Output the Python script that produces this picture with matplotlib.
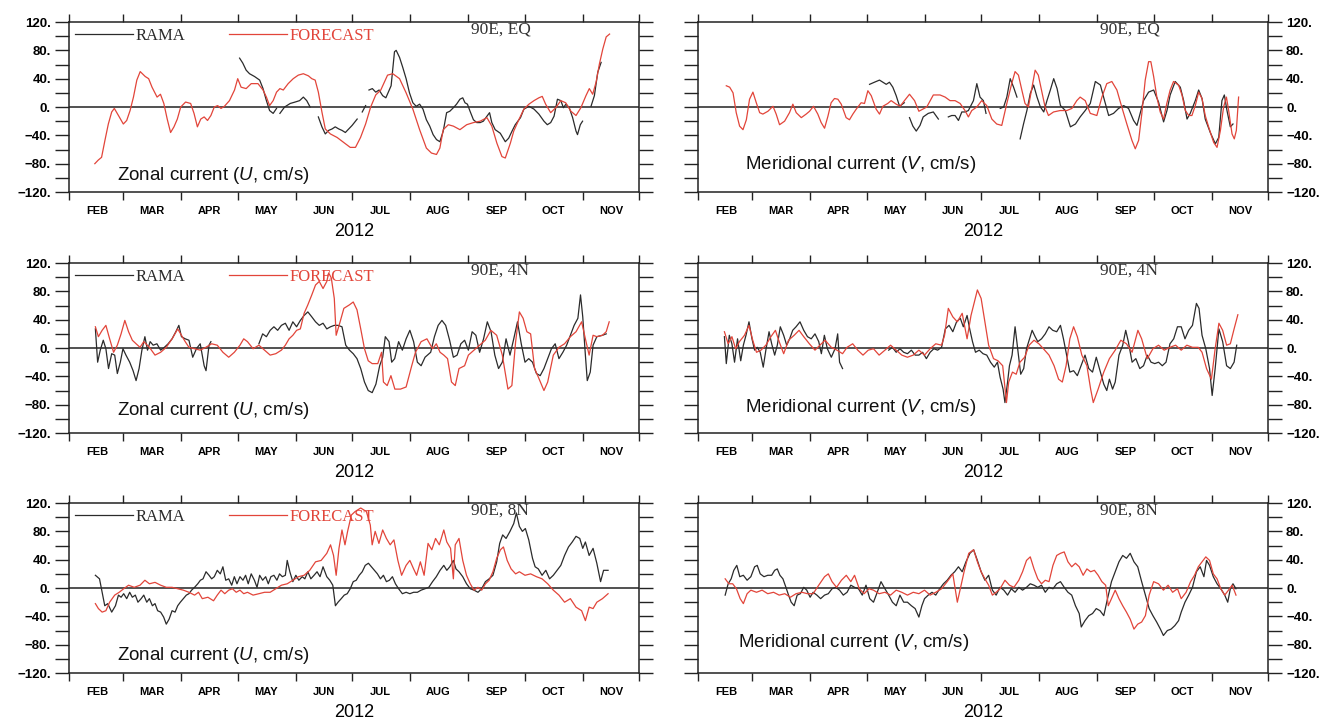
import numpy as np
import matplotlib
matplotlib.use("Agg")
import matplotlib.pyplot as plt
import matplotlib.dates as mdates
from matplotlib.ticker import MultipleLocator, FuncFormatter, NullFormatter

# days counted from 1 Feb 2012, None = no record
eq_u_rama_day = [91, 92.7, 94.5, 96.3, 99, 101.7, 103.5, 105.3, 107, 108.9, 110.7, None,
                 112.5, 115, 118, 120.6, 123, 125, 126.8, 128.6, None,
                 133, 134.9, 136.7, 138.5, 140.3, 142, 143.9, 145.6, 147.4, 149.2, 151, 153.7, None,
                 156.4, 158.2, None,
                 160, 161.8, 163.6, 165.4, 167.3, 169, 171.8, 173.6, 174.5, 176.3, 178, 179.8, 181.6,
                 183.4, 185.2, 187, 188.8, 190.6, 192.4, 194.2, 196, 197.8, 199.6, 201.4, 203.1, 205,
                 206.7, 208.5, 210, 211.2, 212.5, 213.9, 215.7, 217.5, 219.3, 221, 222.9, 224.3, 225.5,
                 227.3, 230, 232.7, 234.5, 236.3, 238, 240.8, 242.6, 245.3, 248, 250.6, 253.3, 255.1,
                 256.9, 258.7, 260.5, 262.3, 263.7, 265, 266.8, 268.6, 270.4, 271.2, 272.7, 273.9, None,
                 278.4, 280.2, 282, 283.8]
eq_u_rama = [69, 62, 52, 47, 43, 38, 26, 9, -5, -9, -2, None,
             -9, 0, 5, 7, 9, 14, 9, 0, None,
             -14, -28, -38, -33, -31, -28, -31, -33, -36, -31, -26, -17, None,
             -7, 2, None,
             24, 26, 21, 24, 16, 13, 30, 78, 80, 70, 56, 40, 20,
             6, 1, 4, -3, -18, -27, -39, -46, -49, -34, -8, -6, -1,
             4, 11, 13, 6, 4, -6, -18, -22, -22, -20, -13, -8, -22,
             -32, -37, -49, -44, -34, -25, -15, -3, 1, -3, -10, -20, -25,
             -22, -13, 11, 9, -1, 4, -1, -15, -34, -39, -25, -20, None,
             1, 16, 49, 63]
eq_u_fcst_day = [13.8, 15.6, 17.4, 19.2, 21, 22.8, 24.2, 26.4, 29, 30.8, 32.6, 34.4, 36.2, 38, 40.7,
                 42.5, 44.3, 47, 48.8, 50.6, 52.4, 54.2, 56, 57.8, 59.6, 62.2, 64.9, 66.7, 68.5, 70.3,
                 72.1, 73.9, 75.7, 77.5, 79.3, 81.1, 82.9, 85.6, 88.3, 90, 91.8, 94.5, 97.2, 100.8,
                 103.5, 105.3, 107, 108.9, 110.7, 112.5, 114.3, 116.9, 119.6, 122.3, 125, 127.7, 129.5,
                 131.3, 133, 134.9, 136.7, 139.4, 143, 146.5, 150, 152.8, 155.5, 158.2, 160.9, 163.6,
                 166.3, 169.9, 172.7, 176.3, 179.8, 183.4, 187, 190.6, 193.3, 196, 197.8, 199.6, 202.3,
                 205, 208.5, 212.1, 215.7, 219.3, 222.9, 225.5, 228.2, 230.9, 232.7, 235.4, 237.2,
                 239.9, 242.6, 245.3, 248, 250.6, 252.4, 254.2, 256.9, 259.6, 262.3, 264.9, 267.7,
                 270.4, 273, 275.7, 277.5, 279.3, 281.1, 282.9, 284.7, 286.5, 288.3]
eq_u_fcst = [-80, -75, -71, -47, -24, -7, -2, -12, -24, -19, -5, 14, 38, 50, 43,
             40, 28, 14, 18, 5, -17, -36, -28, -17, 0, 7, 5, -9, -28, -17,
             -14, -19, -12, 0, 2, -2, 1, 9, 24, 40, 28, 26, 33, 33,
             24, 14, 2, 9, 21, 26, 24, 33, 40, 45, 47, 44, 40,
             38, 21, -7, -31, -38, -43, -50, -57, -57, -43, -24, 0, 17,
             24, 45, 47, 40, 20, -3, -32, -58, -65, -67, -58, -32, -25,
             -27, -32, -25, -22, -20, -15, -27, -51, -70, -72, -51, -34,
             -18, -3, 4, 9, 13, 15, 4, -8, -1, 9, 6, -6,
             -12, -1, 16, 26, 18, 35, 61, 82, 99, 103]

eq_v_rama_day = [91.5, 94.1, 96.8, 98.6, 100.4, 102.1, 103.9, 105.7, 107.5, 110, None,
                 112.8, 114.6, 116.4, 118.4, 120.1, 122.8, 125.5, 128.2, None,
                 133.5, 135.3, 137.1, 138.9, 140.7, 142.4, 144.2, 146.9, 148.7, 150.4, 152.2, 153.6, None,
                 161.2, 163, 164.7, 166.5, 168.3, 170.1, None,
                 171.8, 173.6, 175.4, 177.2, 179, 180.8, 182.6, 184.4, 186.1, 187.9, 189.7, 191.5,
                 193.3, 195.9, 198.6, 201.3, 203.8, 206.5, 209.2, 211.9, 214.6, 216.3, 219, 221.6,
                 224.3, 227, 229.6, 232.3, 234.1, 235.8, 237.6, 240.3, 243, 245.6, 248.3, 250.1,
                 251.8, 254.5, 257.2, 259, 260.8, 262.5, 265.2, 267, 268.8, 270.5, 273.2, 275.9,
                 277.7, 279.4, 280.7, 282.1, 283.9, 285.3]
eq_v_rama = [32, 35, 38, 35, 32, 35, 28, 16, 1, 6, None,
             -15, -27, -34, -26, -14, -9, -7, -17, None,
             -14, -12, -12, -19, -7, -7, -5, 9, 33, 14, 9, -9, None,
             -2, 0, 14, 40, 28, 14, None,
             -45, -24, -5, 19, 31, 14, 0, -7, 9, 24, 40, 26,
             2, -5, -28, -24, -14, -5, 5, 36, 31, 14, -12, -9,
             -2, 2, -2, -19, -26, -9, 9, 21, 24, 7, -21, -5,
             17, 36, 28, 9, -17, -9, 9, 24, 12, -17, -36, -52,
             -43, 9, 17, -5, -28, -24]
eq_v_fcst_day = [15.1, 16.9, 18.7, 20.4, 22.2, 24, 25.8, 27.5, 29.3, 31.1, 32.9, 34.6, 37.3, 40,
                 41.7, 43.5, 46.2, 48.8, 50.6, 52.4, 55.1, 57.7, 59.5, 61.6, 63.9, 65.7, 67.5, 69.3,
                 71, 72.8, 74.6, 76.4, 79, 80.8, 82.6, 84.4, 87, 88.8, 90.6, 92.4, 95, 96.8, 98.6,
                 101.2, 103, 105.7, 107.8, 110.1, 112.8, 115.5, 117.8, 122, 125.5, 129.1, 131.8,
                 134.4, 137.1, 139.8, 142.4, 144.2, 146, 148.7, 151.3, 154, 156.7, 159.3, 162, 164.7,
                 167.3, 169.1, 170.9, 172.7, 174.4, 176.2, 178, 179.8, 181.5, 183.4, 185.1, 186.9,
                 189.6, 193.1, 196.7, 199.4, 202, 203.8, 206.5, 209.2, 212.7, 215.4, 218, 220.7,
                 223.4, 226, 228.7, 231.4, 233.2, 235, 236.7, 238.5, 240.3, 241.5, 243, 244.7, 246.5,
                 248.3, 250, 251.8, 253.6, 256.3, 258.1, 259.9, 261.7, 263.4, 265.2, 267, 268.8,
                 270.5, 272.3, 275, 276.8, 278.6, 280.3, 281.8, 283, 284.8, 286, 287.1, 288.3]
eq_v_fcst = [30, 28, 20, -8, -27, -32, -18, 11, 21, 6, -8, -10, -6, 1,
             -10, -25, -20, -8, 4, -8, -15, -10, -6, 1, -10, -22, -30, -13,
             6, 12, 11, 4, -15, -18, -10, -3, 6, 5, 23, 16, -3, -10, 1,
             5, 9, 4, 1, 9, 18, 9, -6, 0, 17, 17, 14,
             9, 9, 5, -5, -14, -5, 0, 9, 2, -17, -24, -26, 5,
             33, 50, 45, 24, 5, 0, 26, 52, 45, 21, 0, -12,
             -7, -5, -5, -2, 9, 14, 9, -9, -12, 14, 33, 36,
             24, 0, -24, -47, -59, -47, -9, 38, 64, 64, 43, 14, -7,
             -17, 5, 24, 36, 31, 17, -5, -12, -12, 2, 21, 12,
             -12, -28, -50, -57, -33, 0, 14, -5, -38, -45, -33, 14]

n4_u_rama_day = [14.1, 15.3, 16.7, 18.3, 19.7, 21.1, 22.8, 24.4, 25.8, 27.4, 28.8, 30.4, 32.4, 34.2,
                 35.8, 37.4, 38.9, 40.5, 41.9, 43.3, 44.9, 46.9, 48.9, 50.9, 52.9, 55, 57, 58.6, 60,
                 62, 64, 66, 68, 70, 72.1, 73.1, 74.7, 75.7, None,
                 101.3, 103.3, 105.3, 107.3, 109.3, 111.3, 113.3, 115.4, 117.4, 119.4, 121.4, 123.4,
                 125.4, 127.4, 129.5, 131.5, 133.5, 135.5, 137.5, 139.5, 141.5, 143.5, 145.6, 147.6,
                 149.6, 151.6, 153.6, 155.6, 157.6, 159.6, 161.7, 163.7, 165.7, 167.3, 168.7, 170.7,
                 172.1, 173.7, 175.8, 177.8, 179.8, 181.8, 183.8, 185.8, 187.8, 189.9, 192.9, 194.9,
                 196.9, 198.9, 200.9, 203, 205, 207, 209, 211, 213, 215, 217, 219, 221.1, 223.1, 225.1,
                 227.1, 229.1, 231.1, 233.1, 235.2, 237.2, 239.2, 241.2, 243.2, 245.2, 247.2, 249.3,
                 251.3, 253.3, 255.3, 257.3, 259.3, 261.3, 263.4, 265.4, 267.4, 269.4, 271.4, 272.8,
                 274, 275.4, 276.4, 278, 279.5, 281.5, 284.5, 286.5]
n4_u_rama = [27, -20, -3, 11, -1, -29, -8, -10, -36, -20, -1, -10, -20, -32,
             -46, -29, -3, 16, -3, 9, 4, 6, -3, 1, 6, 13, 23, 32, 16,
             13, 11, -13, -1, 6, -25, -32, 4, 9, None,
             6, 20, 16, 25, 30, 25, 32, 35, 25, 37, 30, 39,
             46, 51, 44, 37, 32, 35, 27, 30, 32, 32, 30, 4,
             -3, -8, -15, -29, -48, -60, -63, -51, -25, -13, 16, 9,
             -20, -15, 9, -3, 13, 25, 9, -20, -25, -13, -6, 16,
             32, 39, 32, 11, -13, -10, 6, 11, -3, 23, 18, -6, 13, 37, 23,
             -10, -29, -20, 13, -10, 13, 37, 6, -20, -15, -20, -36,
             -39, -29, -15, -1, 6, -15, -6, 4, 18, 32, 42, 75,
             44, -10, -46, -34, 4, 16, 18, 20]
n4_u_fcst_day = [14.1, 15.7, 17.7, 19.7, 21.7, 23.8, 25.8, 27.8, 29.8, 31.8, 33.8, 35.8, 37.9, 39.9,
                 42.9, 45.9, 48.9, 51.9, 55, 58, 60, 62, 64, 67, 70, 73, 76.1, 79.1, 82.1, 85.2, 88.2,
                 91.2, 93.2, 95.2, 98.2, 101.3, 104.3, 107.3, 110.3, 113.3, 115.4, 117.4, 119.4,
                 121.4, 123.4, 125.4, 127.4, 129.5, 131.5, 133.5, 135.5, 137.5, 138.5, 139.9, 141.5,
                 142.5, 144.6, 146.6, 149.6, 151.6, 153.6, 155.6, 157.6, 159.6, 161.7, 164.7, 166.7,
                 167.7, 169.7, 171.7, 173.8, 176.8, 179.8, 182.8, 184.8, 187.8, 190.9, 193.9, 195.9,
                 197.9, 199.9, 201.9, 204, 206, 208, 211, 213, 216, 219, 222, 225, 228.1, 231.1,
                 234.1, 236.2, 238.2, 240.2, 242.2, 244.2, 246.2, 248.3, 250.3, 253.3, 255.3, 258.3,
                 261.3, 264.3, 267.4, 270.4, 273.4, 275.4, 277.4, 279.5, 281.5, 284.5, 286.5, 288.1]
n4_u_fcst = [30, 16, 25, 32, 13, -6, 4, 20, 39, 23, 11, 6, 1, 9,
             1, -10, -6, 1, 13, 27, 18, 9, 1, -1, -3, 1, 6, 4, -6, -13, -6,
             4, 13, 9, -1, 4, -3, -10, -8, -3, 4, 13, 18,
             25, 27, 49, 61, 75, 89, 94, 84, 94, 106, 99, 70,
             18, 37, 56, 61, 65, 54, 27, -1, -18, -22, -22, -6,
             -48, -53, -39, -58, -58, -55, -25, -6, 9, 13, -1, 6,
             -6, -10, -15, -48, -53, -29, -25, -10, -3, 4, 11, 25, 18, -10,
             -58, -53, 9, 51, 42, 23, 20, -29, -41, -60, -48, -10,
             1, 6, 16, 23, 37, 13, -10, 18, 16, 18, 23, 37]

n4_v_rama_day = [14.1, 15.1, 16.7, 18.1, 19.5, 21.1, 22.8, 24.2, 25.6, 27.2, 28.8, 30.2, 31.6, 33.2,
                 34.8, 36.2, 37.9, 39.3, 40.9, 42.3, 43.9, 45.7, 47.3, 48.9, 50.5, 52.3, 54.4, 56.4,
                 58.4, 60.4, 62.4, 64.4, 65.8, 67.4, 69, 71.1, 73.1, 74.5, 75.5, 77.1, None,
                 101.7, 103.7, 105.7, 107.7, 109.7, 111.7, 113.8, 115.8, 117.8, 119.8, 121.8, 123.8,
                 125.8, 127.8, 129.9, 131.9, 133.9, 135.9, 137.9, 139.9, 141.5, 143.5, 144.9, 146.4,
                 148, 150, 152, 154, 156, 158, 159.7, 161.1, 162.7, 163.7, 165.1, 166.1, 167.5, 169.1,
                 170.5, 172.1, 173.7, 175.2, 176.8, 178.2, 179.8, 181.2, 183.2, 185.2, 187.2, 189.2,
                 191.3, 193.3, 194.9, 196.3, 198.3, 200.3, 202.3, 204.3, 206.4, 208.4, 210.4, 212.4,
                 214.4, 216.4, 218, 219.4, 221.1, 222.5, 224.5, 226.5, 228.1, 229.5, 231.5, 233.5,
                 235.6, 237.6, 239.6, 241.6, 243.6, 245.6, 247.6, 249.6, 251.7, 253.7, 255.7, 257.7,
                 259.7, 261.7, 263.7, 265.8, 267.2, 268.8, 270.8, 272.8, 274.2, 275.8, 277.8, 279.8,
                 281.9, 283.9, 285.9, 287.3]
n4_v_rama = [16, -22, 18, 6, -20, 13, -18, 4, 18, 37, 13, -3, 1, -6,
             -27, -3, 23, 6, -10, 4, 30, 18, 4, 13, 25, 30, 37, 25,
             16, 13, 20, 9, -8, 18, -1, -13, -1, 20, -20, -29, None,
             -3, 1, -6, -1, -6, -8, -3, -10, -10, -6, -15, -6,
             -1, -3, 1, 27, 32, 23, 37, 42, 30, 46, 27, 9,
             -6, -3, -8, -10, -20, -27, -20, -41, -58, -77, -48, -25, -10, 30,
             -1, -37, -29, -1, 13, 25, 16, 9, 13, 20, 30, 25,
             23, 32, 13, -6, -34, -32, -39, -25, -10, -29, -34, -13,
             -32, -51, -60, -44, -58, -48, -10, 4, 25, 9, -20, -15,
             -29, -25, -10, -20, -22, -20, -25, -20, 6, 13, 30, 30,
             13, 25, 32, 63, 56, 18, -1, -29, -67, -29, 27, 9,
             -25, -29, -20, 4]
n4_v_fcst_day = [14.1, 16.1, 18.1, 20.1, 22.1, 24.8, 27.2, 29.2, 31.2, 33.6, 36.2, 38.9, 41.3, 43.3,
                 45.7, 48.3, 51.3, 53.9, 56.4, 59.4, 62.4, 65, 67.8, 71.1, 74.1, 77.1, 79.5, 82.5,
                 85.2, 88, 90.8, 93.6, 96.6, 99.7, 102.7, 105.7, 108.7, 111.7, 114.8, 117.8, 120.8,
                 123.8, 126.8, 129.9, 131.5, 133.5, 135.9, 138.3, 140.9, 143.5, 145.6, 147.4, 149,
                 151, 153, 155, 157.6, 160, 162.5, 164.5, 165.7, 167.7, 169.7, 171.7, 174.2, 176.6,
                 179.2, 181.8, 184.2, 187.2, 189.9, 192.3, 194.3, 196.3, 198.3, 200.3, 202.3, 204.7,
                 207.4, 209.4, 210.8, 213.4, 216.4, 219.4, 222.5, 225.5, 228.5, 231.5, 234.6, 236.6,
                 239.6, 242.6, 245.6, 248.6, 251.7, 254.7, 257.7, 260.7, 263.7, 266.8, 268.8, 271.2,
                 273.8, 275.8, 277.8, 279.8, 281.9, 283.9, 285.9, 287.9]
n4_v_fcst = [23, 6, 16, -1, 9, 18, 32, 11, -6, -3, 4, 16, 25, 9,
             -8, 11, 18, 25, 16, 6, -3, 4, 11, 1, -3, -8, 1, 6,
             -3, -10, -3, -1, -10, -3, 4, -3, -10, -13, -10, -3, -10,
             -1, 6, 4, 18, 56, 44, 37, 49, 13, 46, 65, 82,
             70, 37, 4, -15, -18, -25, -77, -48, -34, -37, -20, -13, 4,
             11, 6, -1, -10, -25, -44, -48, -25, 13, 30, 16, -10,
             -25, -58, -77, -58, -34, -15, -3, 11, 6, -6, 25, 13,
             -15, -1, 4, -3, 1, 4, -3, 4, 1, 1, -6, -29,
             -44, -1, 35, 25, 4, 6, 27, 47]

n8_u_rama_day = [14.1, 16.3, 17.7, 19.1, 20.7, 22.8, 24.8, 26.4, 27.8, 29.2, 30.8, 32.4, 33.8, 35.4,
                 36.8, 38.5, 39.9, 41.5, 42.9, 44.5, 45.9, 47.3, 48.9, 50.5, 51.9, 53.4, 55, 56.6,
                 58, 59.4, 61, 62.6, 64, 65.4, 67, 68.7, 70.1, 71.5, 73.1, 74.7, 76.1, 77.5, 79.1,
                 80.7, 82.1, 83.6, 85.2, 86.8, 88.2, 89.6, 91.2, 92.8, 94.2, 95.6, 97.2, 98.9, 100.3,
                 101.7, 103.3, 104.9, 106.3, 107.7, 109.3, 110.9, 112.3, 113.8, 115.4, 116.4, 117.8,
                 119.4, 121, 122.6, 124.4, 125.8, 127.4, 129, 130.7, 132.3, 133.9, 135.5, 137.5,
                 139.1, 140.7, 142.1, 143.5, 145.2, 146.8, 148.4, 150, 151.6, 153.2, 154.8, 156.4,
                 158, 159.7, 161.3, 162.9, 164.5, 166.1, 167.7, 169.3, 170.9, 172.5, 174.1, 175.8,
                 177.8, 179.8, 181.8, 183.8, 185.8, 187.8, 189.9, 191.9, 193.9, 195.9, 197.9, 199.9,
                 201.5, 203.1, 205, 206.4, 208, 210, 212, 214, 216, 218.1, 220.1, 222.1, 224.1,
                 226.1, 228.1, 229.7, 231.3, 233.1, 235.2, 237.2, 238.6, 240.2, 241.8, 243.4, 245.2,
                 247.2, 248.6, 250.3, 252.3, 254.3, 256.3, 258.3, 260.3, 262.3, 264.3, 266.4, 268.4,
                 270.4, 272.4, 274, 275.4, 277.4, 279.5, 281.5, 283.5, 285.1, 287.5]
n8_u_rama = [18, 13, -6, -25, -22, -34, -25, -10, -13, -8, -15, -6, -13, -10,
             -20, -15, -10, -20, -15, -25, -22, -32, -34, -41, -51, -44, -32, -34,
             -25, -20, -15, -10, -8, -3, 1, 6, 11, 13, 23, 18, 13, 16, 25,
             20, 30, 11, 13, 4, 16, 6, 16, 11, 18, 6, 20, 11, 1,
             18, 11, 16, 6, 16, 18, 11, 20, 16, 18, 39, 23,
             9, 18, 11, 16, 13, 23, 13, 18, 23, 16, 30, 16,
             11, 4, -25, -20, -15, -10, -8, -1, 9, 11, 18, 23,
             32, 35, 30, 25, 20, 13, 18, 9, 11, 16, 6, -1,
             -8, -6, -8, -6, -6, -3, -1, 1, 9, 16, 25, 32,
             25, 30, 39, 27, 23, 16, 6, -1, -3, -6, -1, 9, 13,
             18, 37, 63, 75, 70, 80, 91, 106, 87, 80, 84, 68,
             42, 30, 27, 18, 25, 13, 18, 25, 32, 46, 58, 65,
             73, 70, 56, 65, 46, 56, 35, 9, 25, 25]
n8_u_fcst_day = [14.1, 15.7, 17.7, 19.7, 21.7, 24.4, 26.8, 29.2, 31.8, 34.8, 37.9, 40.5, 42.9, 45.9,
                 48.9, 51.9, 55, 58, 61, 64, 67, 69.1, 71.1, 74.1, 77.1, 79.1, 81.1, 83.1, 85.2, 87.2,
                 89.2, 91.2, 93.2, 95.2, 98.2, 101.3, 104.3, 107.3, 110.3, 113.3, 116.4, 119.4, 122.4,
                 125.4, 128.4, 131.5, 134.5, 137.5, 139.5, 141.1, 142.5, 144, 145.6, 147.2, 148.6,
                 150.6, 152.6, 155.6, 158.6, 160.7, 161.7, 163.3, 165.3, 167.3, 169.3, 171.3, 173.3,
                 175.4, 177.4, 179.8, 181.8, 183.8, 185.4, 187.4, 189.4, 191.5, 193.5, 195.5, 197.5,
                 199.9, 201.5, 203.5, 205, 206, 208, 210, 212, 214, 216, 218.1, 220.1, 222.1, 224.1,
                 226.1, 228.1, 230.1, 231.7, 233.7, 235.8, 238.2, 240.2, 243.2, 246.2, 249.3, 252.3,
                 255.3, 258.3, 261.3, 264.3, 267.4, 270.4, 273.4, 275.4, 277.4, 279.5, 281.5, 284.5,
                 287.5]
n8_u_fcst = [-22, -29, -34, -32, -20, -10, -6, -1, 4, 1, 4, 11, 6, 8,
             4, 1, 1, -1, -3, -6, -10, -6, -15, -13, -18, -10, -3, -8, -3, -1,
             -6, -3, -8, -6, -10, -8, -6, -6, -1, 4, 6, 11, 16,
             18, 25, 37, 39, 49, 61, 46, 18, 56, 82, 61, 80,
             103, 108, 113, 108, 89, 61, 80, 63, 82, 70, 61, 68,
             39, 18, 32, 39, 27, 18, 37, 18, 63, 54, 70, 61,
             82, 65, 56, 13, 61, 70, 39, 18, 6, -3, 1, -3, 6, 11,
             23, 42, 54, 58, 39, 27, 20, 23, 18, 20, 16, 13,
             6, -3, -10, -20, -15, -27, -32, -46, -27, -29, -20, -15,
             -8]

n8_v_rama_day = [14.5, 16.1, 17.7, 19.1, 20.7, 22.3, 24.2, 26.2, 28.2, 30.2, 31.6, 33.2, 35.2, 37.2,
                 39.3, 40.9, 42.3, 43.7, 45.3, 46.9, 48.3, 49.7, 51.3, 52.9, 54.6, 56.4, 58, 59.8,
                 61.4, 63.4, 65.4, 67.5, 69.5, 71.5, 73.5, 75.5, 77.5, 79.5, 81.5, 83.5, 85.6, 87.6,
                 89.6, 91.6, 93.6, 95.6, 97.6, 99.7, 101.7, 103.7, 105.7, 107.7, 109.7, 111.7, 113.8,
                 115.8, 117.8, 119.4, 120.8, 122.8, 124.8, 126.8, 128.9, 130.9, 132.9, 134.9, 136.9,
                 138.9, 140.9, 142.9, 145, 147, 149, 151, 153, 155, 157, 159, 161.1, 163.1, 165.1,
                 167.1, 169.1, 171.1, 173.1, 175.2, 177.2, 179.2, 181.2, 183.2, 185.2, 187.2, 189.3,
                 191.3, 193.3, 195.3, 197.3, 199.3, 201.3, 203.3, 204.4, 206.4, 208.4, 210.4, 212.4,
                 214.4, 216.4, 218.4, 220.5, 222.5, 224.5, 226.5, 228.5, 230.5, 232.5, 234.5, 236.6,
                 238.6, 240.6, 242.6, 244.6, 246.6, 248.2, 250.3, 252.3, 254.3, 256.3, 257.7, 259.7,
                 261.7, 263.7, 265.8, 267.8, 269.8, 271.2, 272.8, 274.8, 276.8, 278.8, 280.9, 282.5,
                 283.9, 285.3, 286.9]
n8_v_rama = [-10, 6, 13, 25, 32, 16, 18, 11, 16, 30, 32, 20, 16, 18,
             18, 25, 27, 18, 13, 1, -10, -20, -25, -10, -8, 1, -3, -13,
             -6, -10, -15, -10, -8, -1, 1, -3, -10, -6, 4, 1, -1, -10,
             4, -15, -20, -6, 9, -1, -10, -20, -25, -10, -20, -20, -25,
             -29, -41, -25, -15, -10, -6, -10, -1, 6, 11, 18, 23,
             30, 23, 37, 49, 54, 39, 23, 11, 18, -3, -10, 1, -3, -10,
             -1, -6, 1, -3, 1, 6, 4, 1, 4, -6, 1, -1,
             6, 9, 1, -6, -10, -25, -36, -55, -46, -39, -36, -29,
             -32, -39, -15, 9, 23, 37, 46, 42, 49, 37, 30, 9,
             -10, -29, -39, -48, -58, -67, -60, -58, -53, -46, -34, -20,
             -10, 1, 23, 30, 16, 39, 32, 16, 6, -1, -10, -20,
             -1, 6, -1]
n8_v_fcst_day = [14.5, 16.5, 18.5, 20.5, 22.5, 24.2, 26.2, 28.2, 31.2, 34.2, 37.2, 40.3, 43.3, 46.3,
                 49.3, 52.3, 55.4, 58.4, 61.4, 64.4, 67.5, 69.5, 71.5, 73.9, 76.5, 79.1, 81.5, 83.5,
                 86, 88.6, 91.2, 93.6, 96.6, 99.7, 102.7, 105.7, 108.7, 111.7, 114.8, 117.8, 120.8,
                 123.8, 126.8, 129.9, 132.9, 135.9, 138.3, 139.9, 141.9, 144.4, 147, 149, 151, 153,
                 155, 157, 159, 161.1, 163.7, 166.1, 168.5, 171.1, 173.1, 175.2, 177.2, 179.2, 181.2,
                 183.2, 185.2, 187.2, 189.3, 191.3, 193.3, 195.3, 197.3, 199.3, 201.3, 203.3, 205.4,
                 207.4, 209.4, 211.4, 213.4, 215.4, 217.4, 218.8, 220.5, 222.5, 224.5, 226.5, 228.5,
                 230.5, 232.5, 234.5, 236.6, 238.6, 240.6, 243, 245.6, 248.2, 250.7, 253.1, 255.7,
                 257.7, 260.3, 262.7, 264.8, 266.8, 268.8, 270.8, 272.8, 274.8, 276.8, 278.8, 280.9,
                 282.9, 284.9, 286.9]
n8_v_fcst = [13, 6, 6, -1, -15, -22, -8, -3, -6, -3, -8, -6, -10, -8,
             -13, -8, -6, -8, -8, 4, 16, 20, 9, 1, 11, 18, 9, 18,
             -1, -8, -1, -3, -8, -6, -10, -3, -6, -10, -6, -8, -3,
             -10, -6, -1, 9, 20, -20, -1, 23, 49, 54, 37, 23, 13,
             4, -10, -6, -1, 11, 4, 1, 11, 23, 39, 44, 27, 13,
             6, 11, 9, 32, 46, 49, 51, 37, 30, 35, 30, 18,
             27, 23, 25, 18, 9, 4, -25, -15, -3, -15, -25, -34,
             -44, -58, -51, -48, -39, -10, 9, 6, -3, 4, -6, -1,
             -15, -6, 9, 18, 30, 37, 44, 39, 20, 13, -1, -10,
             -3, 4, -10]

station_labels = ["90E, EQ", "90E, 4N", "90E, 8N"]
panel_titles = ["Zonal current ($\\mathit{U}$, cm/s)", "Meridional current ($\\mathit{V}$, cm/s)"]
panels = [
    [(eq_u_rama_day, eq_u_rama, eq_u_fcst_day, eq_u_fcst),
     (eq_v_rama_day, eq_v_rama, eq_v_fcst_day, eq_v_fcst)],
    [(n4_u_rama_day, n4_u_rama, n4_u_fcst_day, n4_u_fcst),
     (n4_v_rama_day, n4_v_rama, n4_v_fcst_day, n4_v_fcst)],
    [(n8_u_rama_day, n8_u_rama, n8_u_fcst_day, n8_u_fcst),
     (n8_v_rama_day, n8_v_rama, n8_v_fcst_day, n8_v_fcst)],
]
# where the current label sits in each panel (axes fraction)
title_pos = [[(0.084, 0.10), (0.082, 0.16)],
             [(0.084, 0.13), (0.082, 0.15)],
             [(0.084, 0.105), (0.070, 0.18)]]

plt.rcParams["font.family"] = ["Liberation Sans", "DejaVu Sans"]
plt.rcParams["mathtext.fontset"] = "custom"
plt.rcParams["mathtext.rm"] = "Liberation Sans"
plt.rcParams["mathtext.it"] = "Liberation Sans:italic"

RAMA_COLOR = "#2b2b2b"
FCST_COLOR = "#e2453a"

base = mdates.date2num(np.datetime64("2012-02-01"))
x_end = mdates.date2num(np.datetime64("2012-12-01"))


def ylabel_fmt(v, pos):
    if abs(v) % 40 > 1e-6:
        return ""
    if v == 0:
        return "0."
    return f"{int(v)}.".replace("-", "\u2212")


fig = plt.figure(figsize=(13.31, 7.24), dpi=100)
lefts = [0.0518, 0.5244]
bottoms = [0.7348, 0.4019, 0.0704]
w, h = 0.4283, 0.2348

for r in range(3):
    for c in range(2):
        ax = fig.add_axes([lefts[c], bottoms[r], w, h])
        rd, rv, fd, fv = panels[r][c]
        rd = np.array(rd, dtype=float)
        fd = np.array(fd, dtype=float)
        l1, = ax.plot(base + rd, np.array(rv, dtype=float), color=RAMA_COLOR, lw=0.9, label="RAMA")
        l2, = ax.plot(base + fd, np.array(fv, dtype=float), color=FCST_COLOR, lw=0.9, label="FORECAST")
        ax.axhline(0, color="#222222", lw=1.1, zorder=1)

        ax.set_xlim(base, x_end)
        ax.set_ylim(-120, 120)
        for s in ax.spines.values():
            s.set_linewidth(1.1)
            s.set_color("#222222")

        ax.xaxis.set_major_locator(mdates.MonthLocator())
        ax.xaxis.set_major_formatter(NullFormatter())
        ax.xaxis.set_minor_locator(mdates.MonthLocator(bymonthday=16))
        ax.xaxis.set_minor_formatter(FuncFormatter(lambda v, p: mdates.num2date(v).strftime("%b").upper()))
        ax.tick_params(axis="x", which="major", direction="out", length=6, width=1,
                       top=True, bottom=True, color="#222222")
        ax.tick_params(axis="x", which="minor", length=0, pad=10, labelsize=8)
        for t in ax.xaxis.get_minorticklabels():
            t.set_fontweight("bold")
        ax.set_xlabel("2012", fontsize=13, labelpad=5)

        ax.yaxis.set_major_locator(MultipleLocator(20))
        ax.yaxis.set_major_formatter(FuncFormatter(ylabel_fmt))
        ax.tick_params(axis="y", direction="out", length=10, width=1, left=True, right=True,
                       labelleft=(c == 0), labelright=(c == 1), labelsize=9.5, pad=3,
                       color="#222222")
        for t in ax.get_yticklabels():
            t.set_fontweight("bold")

        ax.text(0.705, 0.955, station_labels[r], transform=ax.transAxes, ha="left", va="center",
                fontsize=12.5, family="Liberation Serif", color="#333333")
        tx, ty = title_pos[r][c]
        ax.text(tx, ty, panel_titles[c], transform=ax.transAxes, ha="left", va="center",
                fontsize=13.5, color="#111111")

        if c == 0:
            ax.legend(handles=[l1, l2], loc="upper left", ncol=2, frameon=False,
                      handlelength=3.5, handletextpad=0.15, columnspacing=2.6,
                      borderaxespad=0.1, borderpad=0.25, labelcolor="linecolor",
                      prop={"family": "Liberation Serif", "size": 12})

fig.savefig("out.png", dpi=100)
